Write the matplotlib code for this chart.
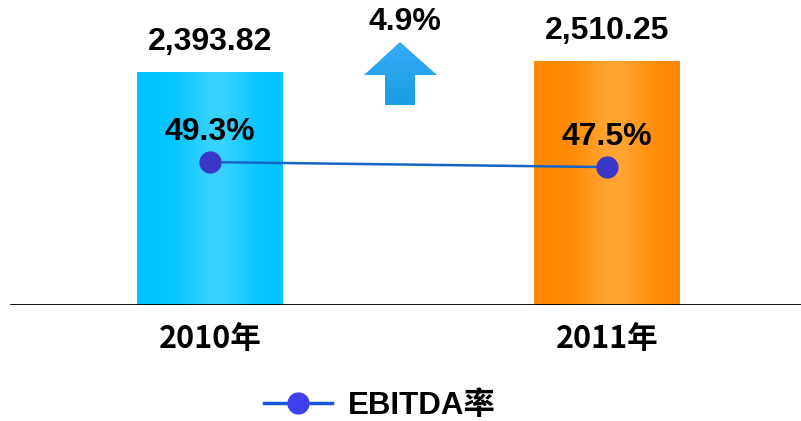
import numpy as np
import matplotlib.pyplot as plt
from matplotlib.patches import Polygon
from matplotlib.lines import Line2D

years = ['2010年', '2011年']
revenue = [2393.82, 2510.25]
revenue_labels = ['2,393.82', '2,510.25']
ebitda_rate = [49.3, 47.5]
growth_label = '4.9%'

plt.rcParams['font.family'] = ['Liberation Sans', 'Noto Sans CJK SC', 'DejaVu Sans']
plt.rcParams['font.weight'] = 'bold'

W, H = 801, 421
fig = plt.figure(figsize=(W / 100, H / 100), dpi=100)
base = 305  # pixel row of the axis line
ax = fig.add_axes([0, (H - base) / H, 1, base / H])

x = np.arange(len(years))
px = 397.0
bw = 146 / px

edge_cols = [np.array([0, 196, 255]) / 255, np.array([255, 136, 0]) / 255]
mid_cols = [np.array([56, 210, 255]) / 255, np.array([255, 165, 50]) / 255]
bars = ax.bar(x, revenue, width=bw, color='none', zorder=1)
for i, b in enumerate(bars):
    e, m = edge_cols[i], mid_cols[i]
    t = np.linspace(0, 1, 200)
    w = np.exp(-((t - 0.55) / 0.22) ** 2)
    grad = e[None, :] * (1 - w[:, None]) + m[None, :] * w[:, None]
    img = ax.imshow(grad[None, :, :], extent=[b.get_x(), b.get_x() + b.get_width(), 0, b.get_height()],
                    aspect='auto', zorder=1)
    img.set_clip_path(b)
    ax.annotate(revenue_labels[i], (b.get_x() + b.get_width() / 2, b.get_height()),
                xytext=(0, 30 * 0.72), textcoords='offset points', ha='center', va='center',
                fontsize=23, fontweight='bold')
ax.set_xlim(-210 / px, (W - 210) / px)
ax.set_ylim(0, 3133)

ax.axhline(0, xmin=11 / W, xmax=1, color='black', lw=2, zorder=3)
ax.set_xticks(x)
ax.set_xticklabels(years, fontsize=22, fontweight='bold',
                   family=['Liberation Sans Narrow', 'Noto Sans CJK SC'])
ax.tick_params(axis='x', length=0, pad=13)
ax.set_yticks([])
for s in ax.spines.values():
    s.set_visible(False)

ax2 = ax.twinx()
ax2.set_ylim(-2.1, 107.6)
ax2.plot(x, ebitda_rate, color='#1565c8', lw=1.8, marker='o', ms=15,
         mfc='#3a36c8', mec='#3a36c8', zorder=4)
for xi, v in zip(x, ebitda_rate):
    ax2.annotate(f'{v}%', (xi, v), xytext=(0, 30 * 0.72), textcoords='offset points',
                 ha='center', va='center', fontsize=23, fontweight='bold')
ax2.set_yticks([])
for s in ax2.spines.values():
    s.set_visible(False)

# growth arrow, drawn in its own small axes (pixel-based box)
axa = fig.add_axes([364 / W, 1 - 105 / H, 73 / W, 63 / H])
axa.axis('off')
arrow = Polygon([(36, 42), (73, 75), (51, 75), (51, 105), (21, 105), (21, 75), (0, 75)],
                closed=True, facecolor='none', edgecolor='none')
axa.add_patch(arrow)
g = np.linspace(0, 1, 100)[:, None]
top = np.array([55, 170, 250]) / 255
bot = np.array([25, 158, 225]) / 255
grad = top[None, :] * (1 - g) + bot[None, :] * g
im = axa.imshow(grad[:, None, :], extent=[0, 73, 105, 42], aspect='auto')
im.set_clip_path(arrow)
axa.set_xlim(0, 73)
axa.set_ylim(105, 42)
fig.text(405 / W, 1 - 22 / H, growth_label, ha='center', va='center', fontsize=23, fontweight='bold')

handle = Line2D([], [], color='#1a55e0', lw=2.5, marker='o', ms=15, mfc='#4040f0', mec='#4040f0')
fig.legend([handle], ['EBITDA率'], loc='center', bbox_to_anchor=(0.474, 0.036),
           frameon=False, handlelength=2.2, handletextpad=0.5,
           prop={'weight': 'bold', 'size': 22.5})

fig.savefig('out.png', dpi=100)
